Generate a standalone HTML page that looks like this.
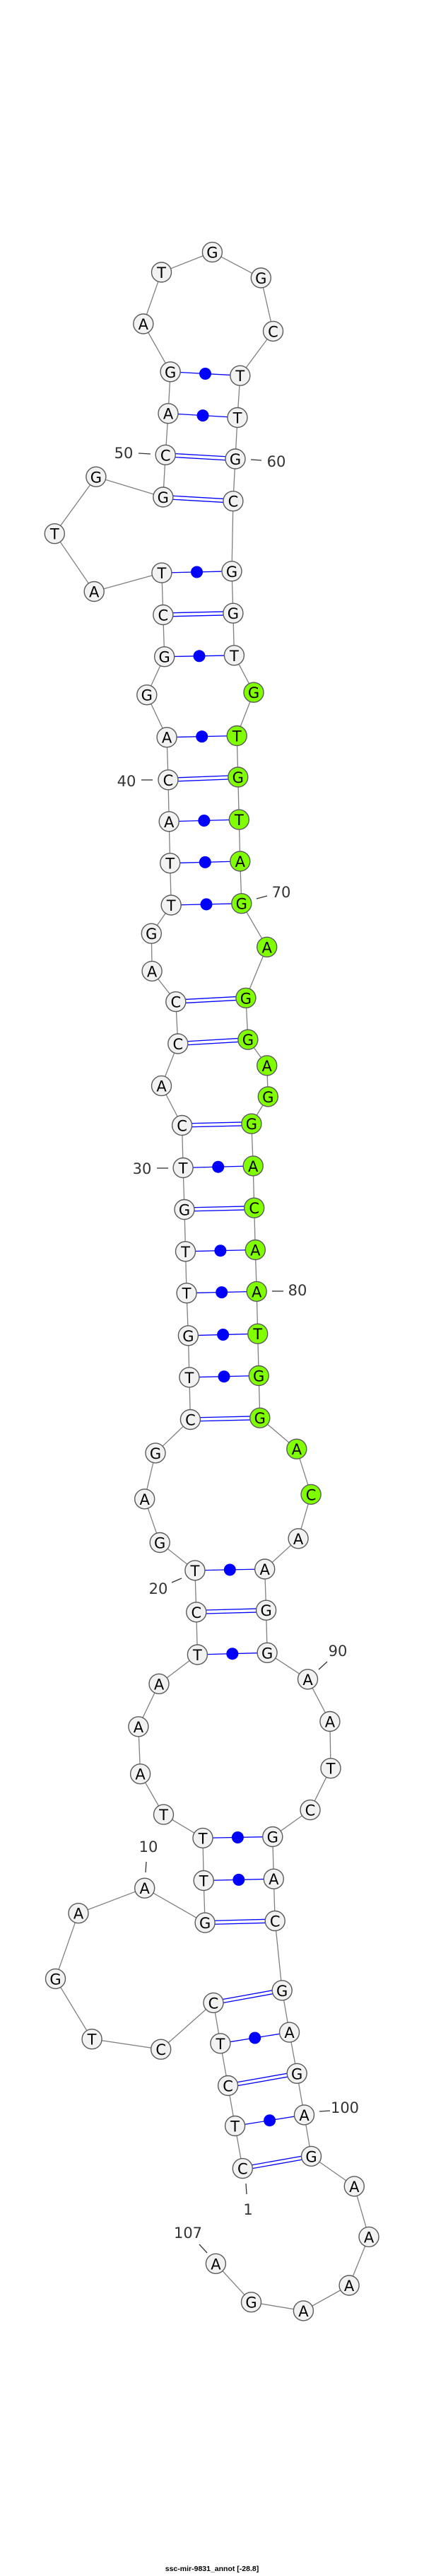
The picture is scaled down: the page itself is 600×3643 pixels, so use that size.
<!DOCTYPE html>
<html><head><meta charset="utf-8"><style>
html,body{margin:0;padding:0;background:#fff}
svg{display:block}
.b{stroke:#808080;stroke-width:1.3;fill:none}
.p{stroke:#0000ff;stroke-width:1.3}
.d{fill:#0000ff}
.n{fill:#f2f2f2;stroke:#5a5a5a;stroke-width:1.4}
.g{fill:#7fff00;stroke:#5a5a5a;stroke-width:1.4}
.t{font-family:"DejaVu Sans","Liberation Sans",sans-serif;font-size:21px;text-anchor:middle;dominant-baseline:central;fill:#000}
.l{font-family:"DejaVu Sans","Liberation Sans",sans-serif;font-size:21px;text-anchor:middle;dominant-baseline:central;fill:#333}
.k{stroke:#333;stroke-width:1.3}
</style></head><body>
<svg width="600" height="3643" viewBox="0 0 600 3643" xmlns="http://www.w3.org/2000/svg">
<polyline class="b" points="343.3,3066.6 332.6,3006.5 322.6,2949.5 311.9,2889.8 302,2832.4 227.7,2898.2 130.1,2883.7 78.5,2798.4 111,2705.7 204.7,2670.2 290.1,2719.1 288.2,2659.5 287,2599.4 231.5,2566.1 198.6,2508.7 195.9,2441.8 225,2381.3 279.4,2340 277.8,2279.9 275.9,2220.9 226.2,2181.5 204.7,2119.9 220,2054.9 269.4,2007.5 267.9,1947.8 266.4,1888.8 264.1,1828.7 262.5,1769.8 261,1710.5 259.1,1651.5 257.6,1591.5 228.5,1535.6 251.8,1476 248.8,1416.6 215.1,1373.4 214.3,1320.2 242.2,1280 240.7,1220.7 239.2,1161.8 238,1102.8 236.1,1042.7 207.8,982.7 232.7,928.7 230.8,869.5 228.9,810.1 133.2,836.5 77.3,754.7 135.9,674.3 230.8,703 234.2,643.3 238,584.7 241.1,525.8 202.8,458 228.5,385 300.4,356.6 369.3,393 386.5,468.4 339.8,531.2 336,590.5 333,649 329.9,708.7 328,807.8 329.9,867.2 331.4,926.8 359,979.2 335.2,1040.5 336.8,1099 338.3,1159.1 339.8,1218 341.8,1277.7 377.7,1339.3 347.9,1411.3 350.9,1470.2 377.7,1506.9 379.3,1550.9 355.9,1589.2 358.2,1648.9 359.7,1708.2 361.3,1767.5 363.2,1826.4 364.7,1886.2 366.2,1945.5 367.8,2005.2 419.8,2049.2 440.1,2113.4 422.1,2175.8 374.7,2219 376.6,2277.2 378.1,2337.3 435.5,2374.8 466.9,2434.5 468,2500.7 439,2559.6 385.8,2597.5 387.3,2657.2 389.2,2716.5 399.2,2814.8 409.5,2874.1 420.2,2932.3 430.5,2990.9 440.5,3049.4 501.3,3091.9 522,3163.4 494.1,3232 429.4,3267.9 355.5,3255.7 305.4,3201.3"/>
<!-- dot pairs -->
<g class="p">
<line x1="241.1" y1="525.8" x2="339.8" y2="531.2"/>
<line x1="238" y1="584.7" x2="336" y2="590.5"/>
<line x1="228.9" y1="810.1" x2="328" y2="807.8"/>
<line x1="232.7" y1="928.7" x2="331.4" y2="926.8"/>
<line x1="236.1" y1="1042.7" x2="335.2" y2="1040.5"/>
<line x1="239.2" y1="1161.8" x2="338.3" y2="1159.1"/>
<line x1="240.7" y1="1220.7" x2="339.8" y2="1218"/>
<line x1="242.2" y1="1280" x2="341.8" y2="1277.7"/>
<line x1="259.1" y1="1651.5" x2="358.2" y2="1648.9"/>
<line x1="262.5" y1="1769.8" x2="361.3" y2="1767.5"/>
<line x1="264.1" y1="1828.7" x2="363.2" y2="1826.4"/>
<line x1="266.4" y1="1888.8" x2="364.7" y2="1886.2"/>
<line x1="267.9" y1="1947.8" x2="366.2" y2="1945.5"/>
<line x1="275.9" y1="2220.9" x2="374.7" y2="2219"/>
<line x1="279.4" y1="2340" x2="378.1" y2="2337.3"/>
<line x1="287" y1="2599.4" x2="385.8" y2="2597.5"/>
<line x1="288.2" y1="2659.5" x2="387.3" y2="2657.2"/>
<line x1="311.9" y1="2889.8" x2="409.5" y2="2874.1"/>
<line x1="332.6" y1="3006.5" x2="430.5" y2="2990.9"/>
</g>
<g class="d">
<circle cx="290.5" cy="528.5" r="8.5"/>
<circle cx="287" cy="587.6" r="8.5"/>
<circle cx="278.5" cy="809" r="8.5"/>
<circle cx="282" cy="927.8" r="8.5"/>
<circle cx="285.7" cy="1041.6" r="8.5"/>
<circle cx="288.8" cy="1160.5" r="8.5"/>
<circle cx="290.3" cy="1219.4" r="8.5"/>
<circle cx="292" cy="1278.9" r="8.5"/>
<circle cx="308.7" cy="1650.2" r="8.5"/>
<circle cx="311.9" cy="1768.7" r="8.5"/>
<circle cx="313.7" cy="1827.6" r="8.5"/>
<circle cx="315.6" cy="1887.5" r="8.5"/>
<circle cx="317" cy="1946.7" r="8.5"/>
<circle cx="325.3" cy="2220" r="8.5"/>
<circle cx="328.8" cy="2338.7" r="8.5"/>
<circle cx="336.4" cy="2598.5" r="8.5"/>
<circle cx="337.8" cy="2658.4" r="8.5"/>
<circle cx="360.7" cy="2882" r="8.5"/>
<circle cx="381.6" cy="2998.7" r="8.5"/>
</g>
<!-- double pairs -->
<g class="p">
<line x1="234.2" y1="640.8" x2="333" y2="646.5"/><line x1="234.2" y1="645.8" x2="333" y2="651.5"/>
<line x1="230.8" y1="700.5" x2="329.9" y2="706.2"/><line x1="230.8" y1="705.5" x2="329.9" y2="711.2"/>
<line x1="230.8" y1="867" x2="329.9" y2="864.7"/><line x1="230.8" y1="872" x2="329.9" y2="869.7"/>
<line x1="238" y1="1100.3" x2="336.8" y2="1096.5"/><line x1="238" y1="1105.3" x2="336.8" y2="1101.5"/>
<line x1="248.8" y1="1414.1" x2="347.9" y2="1408.8"/><line x1="248.8" y1="1419.1" x2="347.9" y2="1413.8"/>
<line x1="251.8" y1="1473.5" x2="350.9" y2="1467.7"/><line x1="251.8" y1="1478.5" x2="350.9" y2="1472.7"/>
<line x1="257.6" y1="1589" x2="355.9" y2="1586.7"/><line x1="257.6" y1="1594" x2="355.9" y2="1591.7"/>
<line x1="261" y1="1708" x2="359.7" y2="1705.7"/><line x1="261" y1="1713" x2="359.7" y2="1710.7"/>
<line x1="269.4" y1="2005" x2="367.8" y2="2002.7"/><line x1="269.4" y1="2010" x2="367.8" y2="2007.7"/>
<line x1="277.8" y1="2277.4" x2="376.6" y2="2274.7"/><line x1="277.8" y1="2282.4" x2="376.6" y2="2279.7"/>
<line x1="290.1" y1="2716.6" x2="389.2" y2="2714"/><line x1="290.1" y1="2721.6" x2="389.2" y2="2719"/>
<line x1="302" y1="2829.9" x2="399.2" y2="2812.3"/><line x1="302" y1="2834.9" x2="399.2" y2="2817.3"/>
<line x1="322.6" y1="2947" x2="420.2" y2="2929.8"/><line x1="322.6" y1="2952" x2="420.2" y2="2934.8"/>
<line x1="343.3" y1="3064.1" x2="440.5" y2="3046.9"/><line x1="343.3" y1="3069.1" x2="440.5" y2="3051.9"/>
</g>
<!-- ticks -->
<g class="k">
<line x1="196" y1="641" x2="213" y2="642"/>
<line x1="355" y1="650" x2="370" y2="651"/>
<line x1="200" y1="1103" x2="216" y2="1103"/>
<line x1="363" y1="1271" x2="378" y2="1267"/>
<line x1="222" y1="1652" x2="238" y2="1652"/>
<line x1="385" y1="1826" x2="401" y2="1826"/>
<line x1="243" y1="2238" x2="257" y2="2232"/>
<line x1="451" y1="2361" x2="463" y2="2350"/>
<line x1="207" y1="2633" x2="206" y2="2648"/>
<line x1="452" y1="2986" x2="467" y2="2985"/>
<line x1="348" y1="3088" x2="349" y2="3103"/>
<line x1="282" y1="3174" x2="293" y2="3186"/>
</g>
<g class="l">
<text x="175" y="641">50</text>
<text x="391" y="653">60</text>
<text x="179" y="1105">40</text>
<text x="398" y="1262">70</text>
<text x="201" y="1653">30</text>
<text x="421" y="1825">80</text>
<text x="224" y="2247">20</text>
<text x="478" y="2335">90</text>
<text x="210" y="2612">10</text>
<text x="488" y="2981">100</text>
<text x="351" y="3125">1</text>
<text x="266" y="3158">107</text>
</g>
<!-- nodes -->
<g>
<circle class="n" cx="343.3" cy="3066.6" r="14"/><circle class="n" cx="332.6" cy="3006.5" r="14"/><circle class="n" cx="322.6" cy="2949.5" r="14"/><circle class="n" cx="311.9" cy="2889.8" r="14"/><circle class="n" cx="302" cy="2832.4" r="14"/><circle class="n" cx="227.7" cy="2898.2" r="14"/><circle class="n" cx="130.1" cy="2883.7" r="14"/><circle class="n" cx="78.5" cy="2798.4" r="14"/><circle class="n" cx="111" cy="2705.7" r="14"/><circle class="n" cx="204.7" cy="2670.2" r="14"/><circle class="n" cx="290.1" cy="2719.1" r="14"/><circle class="n" cx="288.2" cy="2659.5" r="14"/><circle class="n" cx="287" cy="2599.4" r="14"/><circle class="n" cx="231.5" cy="2566.1" r="14"/><circle class="n" cx="198.6" cy="2508.7" r="14"/><circle class="n" cx="195.9" cy="2441.8" r="14"/><circle class="n" cx="225" cy="2381.3" r="14"/><circle class="n" cx="279.4" cy="2340" r="14"/><circle class="n" cx="277.8" cy="2279.9" r="14"/><circle class="n" cx="275.9" cy="2220.9" r="14"/><circle class="n" cx="226.2" cy="2181.5" r="14"/><circle class="n" cx="204.7" cy="2119.9" r="14"/><circle class="n" cx="220" cy="2054.9" r="14"/><circle class="n" cx="269.4" cy="2007.5" r="14"/><circle class="n" cx="267.9" cy="1947.8" r="14"/><circle class="n" cx="266.4" cy="1888.8" r="14"/><circle class="n" cx="264.1" cy="1828.7" r="14"/><circle class="n" cx="262.5" cy="1769.8" r="14"/><circle class="n" cx="261" cy="1710.5" r="14"/><circle class="n" cx="259.1" cy="1651.5" r="14"/><circle class="n" cx="257.6" cy="1591.5" r="14"/><circle class="n" cx="228.5" cy="1535.6" r="14"/><circle class="n" cx="251.8" cy="1476" r="14"/><circle class="n" cx="248.8" cy="1416.6" r="14"/><circle class="n" cx="215.1" cy="1373.4" r="14"/><circle class="n" cx="214.3" cy="1320.2" r="14"/><circle class="n" cx="242.2" cy="1280" r="14"/><circle class="n" cx="240.7" cy="1220.7" r="14"/><circle class="n" cx="239.2" cy="1161.8" r="14"/><circle class="n" cx="238" cy="1102.8" r="14"/><circle class="n" cx="236.1" cy="1042.7" r="14"/><circle class="n" cx="207.8" cy="982.7" r="14"/><circle class="n" cx="232.7" cy="928.7" r="14"/><circle class="n" cx="230.8" cy="869.5" r="14"/><circle class="n" cx="228.9" cy="810.1" r="14"/><circle class="n" cx="133.2" cy="836.5" r="14"/><circle class="n" cx="77.3" cy="754.7" r="14"/><circle class="n" cx="135.9" cy="674.3" r="14"/><circle class="n" cx="230.8" cy="703" r="14"/><circle class="n" cx="234.2" cy="643.3" r="14"/><circle class="n" cx="238" cy="584.7" r="14"/><circle class="n" cx="241.1" cy="525.8" r="14"/><circle class="n" cx="202.8" cy="458" r="14"/><circle class="n" cx="228.5" cy="385" r="14"/><circle class="n" cx="300.4" cy="356.6" r="14"/><circle class="n" cx="369.3" cy="393" r="14"/><circle class="n" cx="386.5" cy="468.4" r="14"/><circle class="n" cx="339.8" cy="531.2" r="14"/><circle class="n" cx="336" cy="590.5" r="14"/><circle class="n" cx="333" cy="649" r="14"/><circle class="n" cx="329.9" cy="708.7" r="14"/><circle class="n" cx="328" cy="807.8" r="14"/><circle class="n" cx="329.9" cy="867.2" r="14"/><circle class="n" cx="331.4" cy="926.8" r="14"/>
<circle class="g" cx="359" cy="979.2" r="14"/><circle class="g" cx="335.2" cy="1040.5" r="14"/><circle class="g" cx="336.8" cy="1099" r="14"/><circle class="g" cx="338.3" cy="1159.1" r="14"/><circle class="g" cx="339.8" cy="1218" r="14"/><circle class="g" cx="341.8" cy="1277.7" r="14"/><circle class="g" cx="377.7" cy="1339.3" r="14"/><circle class="g" cx="347.9" cy="1411.3" r="14"/><circle class="g" cx="350.9" cy="1470.2" r="14"/><circle class="g" cx="377.7" cy="1506.9" r="14"/><circle class="g" cx="379.3" cy="1550.9" r="14"/><circle class="g" cx="355.9" cy="1589.2" r="14"/><circle class="g" cx="358.2" cy="1648.9" r="14"/><circle class="g" cx="359.7" cy="1708.2" r="14"/><circle class="g" cx="361.3" cy="1767.5" r="14"/><circle class="g" cx="363.2" cy="1826.4" r="14"/><circle class="g" cx="364.7" cy="1886.2" r="14"/><circle class="g" cx="366.2" cy="1945.5" r="14"/><circle class="g" cx="367.8" cy="2005.2" r="14"/><circle class="g" cx="419.8" cy="2049.2" r="14"/><circle class="g" cx="440.1" cy="2113.4" r="14"/>
<circle class="n" cx="422.1" cy="2175.8" r="14"/><circle class="n" cx="374.7" cy="2219" r="14"/><circle class="n" cx="376.6" cy="2277.2" r="14"/><circle class="n" cx="378.1" cy="2337.3" r="14"/><circle class="n" cx="435.5" cy="2374.8" r="14"/><circle class="n" cx="466.9" cy="2434.5" r="14"/><circle class="n" cx="468" cy="2500.7" r="14"/><circle class="n" cx="439" cy="2559.6" r="14"/><circle class="n" cx="385.8" cy="2597.5" r="14"/><circle class="n" cx="387.3" cy="2657.2" r="14"/><circle class="n" cx="389.2" cy="2716.5" r="14"/><circle class="n" cx="399.2" cy="2814.8" r="14"/><circle class="n" cx="409.5" cy="2874.1" r="14"/><circle class="n" cx="420.2" cy="2932.3" r="14"/><circle class="n" cx="430.5" cy="2990.9" r="14"/><circle class="n" cx="440.5" cy="3049.4" r="14"/><circle class="n" cx="501.3" cy="3091.9" r="14"/><circle class="n" cx="522" cy="3163.4" r="14"/><circle class="n" cx="494.1" cy="3232" r="14"/><circle class="n" cx="429.4" cy="3267.9" r="14"/><circle class="n" cx="355.5" cy="3255.7" r="14"/><circle class="n" cx="305.4" cy="3201.3" r="14"/>
</g>
<g class="t">
<text x="343.3" y="3067.6">C</text><text x="332.6" y="3007.5">T</text><text x="322.6" y="2950.5">C</text><text x="311.9" y="2890.8">T</text><text x="302" y="2833.4">C</text><text x="227.7" y="2899.2">C</text><text x="130.1" y="2884.7">T</text><text x="78.5" y="2799.4">G</text><text x="111" y="2706.7">A</text><text x="204.7" y="2671.2">A</text><text x="290.1" y="2720.1">G</text><text x="288.2" y="2660.5">T</text><text x="287" y="2600.4">T</text><text x="231.5" y="2567.1">T</text><text x="198.6" y="2509.7">A</text><text x="195.9" y="2442.8">A</text><text x="225" y="2382.3">A</text><text x="279.4" y="2341">T</text><text x="277.8" y="2280.9">C</text><text x="275.9" y="2221.9">T</text><text x="226.2" y="2182.5">G</text><text x="204.7" y="2120.9">A</text><text x="220" y="2055.9">G</text><text x="269.4" y="2008.5">C</text><text x="267.9" y="1948.8">T</text><text x="266.4" y="1889.8">G</text><text x="264.1" y="1829.7">T</text><text x="262.5" y="1770.8">T</text><text x="261" y="1711.5">G</text><text x="259.1" y="1652.5">T</text><text x="257.6" y="1592.5">C</text><text x="228.5" y="1536.6">A</text><text x="251.8" y="1477">C</text><text x="248.8" y="1417.6">C</text><text x="215.1" y="1374.4">A</text><text x="214.3" y="1321.2">G</text><text x="242.2" y="1281">T</text><text x="240.7" y="1221.7">T</text><text x="239.2" y="1162.8">A</text><text x="238" y="1103.8">C</text><text x="236.1" y="1043.7">A</text><text x="207.8" y="983.7">G</text><text x="232.7" y="929.7">G</text><text x="230.8" y="870.5">C</text><text x="228.9" y="811.1">T</text><text x="133.2" y="837.5">A</text><text x="77.3" y="755.7">T</text><text x="135.9" y="675.3">G</text><text x="230.8" y="704">G</text><text x="234.2" y="644.3">C</text><text x="238" y="585.7">A</text><text x="241.1" y="526.8">G</text><text x="202.8" y="459">A</text><text x="228.5" y="386">T</text><text x="300.4" y="357.6">G</text><text x="369.3" y="394">G</text><text x="386.5" y="469.4">C</text><text x="339.8" y="532.2">T</text><text x="336" y="591.5">T</text><text x="333" y="650">G</text><text x="329.9" y="709.7">C</text><text x="328" y="808.8">G</text><text x="329.9" y="868.2">G</text><text x="331.4" y="927.8">T</text><text x="359" y="980.2">G</text><text x="335.2" y="1041.5">T</text><text x="336.8" y="1100">G</text><text x="338.3" y="1160.1">T</text><text x="339.8" y="1219">A</text><text x="341.8" y="1278.7">G</text><text x="377.7" y="1340.3">A</text><text x="347.9" y="1412.3">G</text><text x="350.9" y="1471.2">G</text><text x="377.7" y="1507.9">A</text><text x="379.3" y="1551.9">G</text><text x="355.9" y="1590.2">G</text><text x="358.2" y="1649.9">A</text><text x="359.7" y="1709.2">C</text><text x="361.3" y="1768.5">A</text><text x="363.2" y="1827.4">A</text><text x="364.7" y="1887.2">T</text><text x="366.2" y="1946.5">G</text><text x="367.8" y="2006.2">G</text><text x="419.8" y="2050.2">A</text><text x="440.1" y="2114.4">C</text><text x="422.1" y="2176.8">A</text><text x="374.7" y="2220">A</text><text x="376.6" y="2278.2">G</text><text x="378.1" y="2338.3">G</text><text x="435.5" y="2375.8">A</text><text x="466.9" y="2435.5">A</text><text x="468" y="2501.7">T</text><text x="439" y="2560.6">C</text><text x="385.8" y="2598.5">G</text><text x="387.3" y="2658.2">A</text><text x="389.2" y="2717.5">C</text><text x="399.2" y="2815.8">G</text><text x="409.5" y="2875.1">A</text><text x="420.2" y="2933.3">G</text><text x="430.5" y="2991.9">A</text><text x="440.5" y="3050.4">G</text><text x="501.3" y="3092.9">A</text><text x="522" y="3164.4">A</text><text x="494.1" y="3233">A</text><text x="429.4" y="3268.9">A</text><text x="355.5" y="3256.7">G</text><text x="305.4" y="3202.3">A</text>
</g>
<text x="300" y="3636" font-family="Liberation Sans, sans-serif" font-size="10.5" font-weight="bold" text-anchor="middle" fill="#000">ssc-mir-9831_annot [-28.8]</text>
</svg>
</body></html>
